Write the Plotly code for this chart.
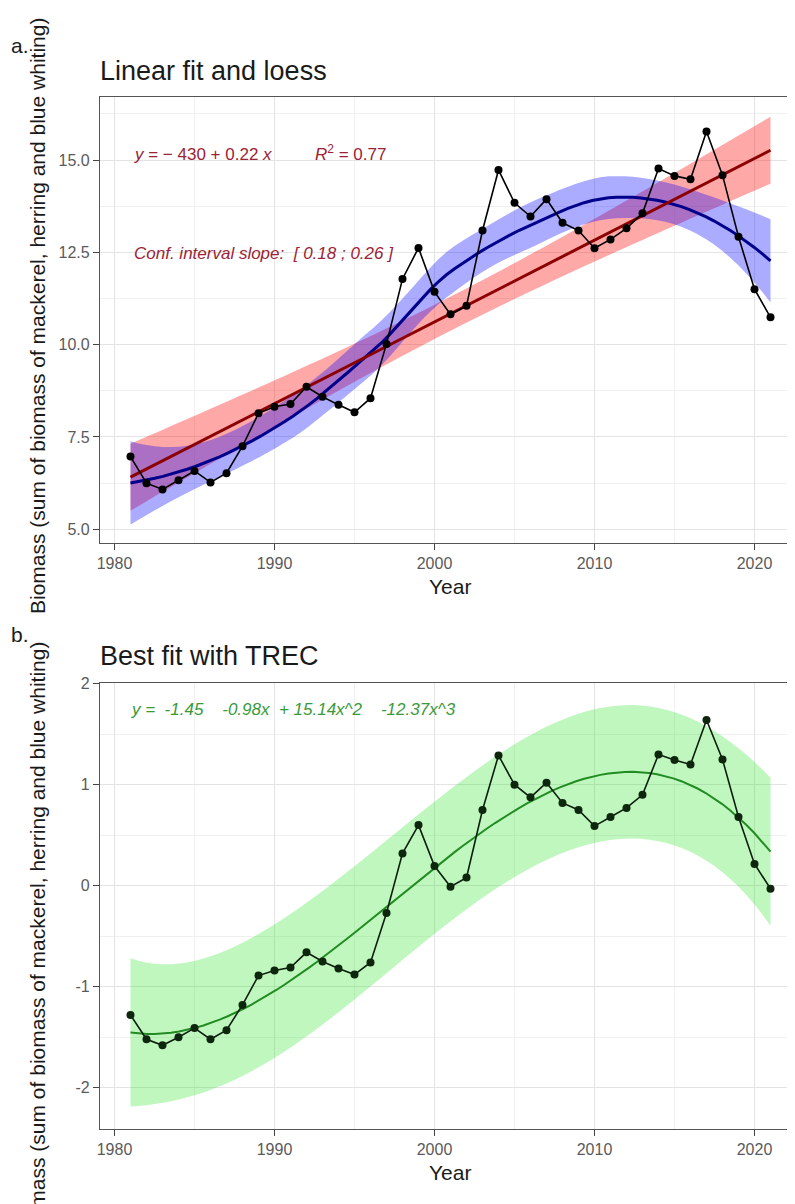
import numpy as np
import plotly.graph_objects as go

# ---------------- data ----------------
years = [1981, 1982, 1983, 1984, 1985, 1986, 1987, 1988, 1989, 1990,
         1991, 1992, 1993, 1994, 1995, 1996, 1997, 1998, 1999, 2000,
         2001, 2002, 2003, 2004, 2005, 2006, 2007, 2008, 2009, 2010,
         2011, 2012, 2013, 2014, 2015, 2016, 2017, 2018, 2019, 2020, 2021]

biomass = [6.97, 6.25, 6.08, 6.33, 6.58, 6.27, 6.52, 7.25, 8.14, 8.32,
           8.39, 8.86, 8.59, 8.37, 8.17, 8.55, 10.02, 11.78, 12.62, 11.43,
           10.82, 11.05, 13.09, 14.73, 13.84, 13.47, 13.94, 13.30, 13.09, 12.61,
           12.85, 13.15, 13.56, 14.77, 14.57, 14.48, 15.77, 14.59, 12.92, 11.50, 10.74]

biomass_std = [-1.28, -1.52, -1.58, -1.50, -1.41, -1.52, -1.43, -1.18, -0.89, -0.84,
               -0.81, -0.66, -0.75, -0.82, -0.88, -0.76, -0.27, 0.32, 0.60, 0.195,
               -0.01, 0.08, 0.75, 1.29, 1.00, 0.875, 1.02, 0.82, 0.75, 0.59,
               0.68, 0.77, 0.90, 1.30, 1.245, 1.20, 1.64, 1.25, 0.68, 0.215, -0.03]

top_ticks = [5.0, 7.5, 10.0, 12.5, 15.0]
top_minor = [6.25, 8.75, 11.25, 13.75, 16.25]
bot_ticks = [-2, -1, 0, 1, 2]
bot_ticktext = ["-2", "-1", "0", "1", "2"]
bot_minor = [-1.5, -0.5, 0.5, 1.5]
x_ticks = [1980, 1990, 2000, 2010, 2020]
x_minor = [1985, 1995, 2005, 2015]

ylab = "Biomass (sum of biomass of mackerel, herring and blue whiting)"


# ---------------- statistics (computed from the data) ----------------
def t975(df):
    z = 1.959963985
    g1 = (z**3 + z) / 4
    g2 = (5*z**5 + 16*z**3 + 3*z) / 96
    g3 = (3*z**7 + 19*z**5 + 17*z**3 - 15*z) / 384
    g4 = (79*z**9 + 776*z**7 + 1482*z**5 - 1920*z**3 - 945*z) / 92160
    return z + g1/df + g2/df**2 + g3/df**3 + g4/df**4


x = np.array(years, float)
y = np.array(biomass, float)
ys = np.array(biomass_std, float)
n = len(x)
grid = np.linspace(x.min(), x.max(), 80)

# linear fit + 95% CI
b1, b0 = np.polyfit(x, y, 1)
res = y - (b0 + b1*x)
s_lin = np.sqrt(np.sum(res**2) / (n - 2))
xbar = x.mean()
sxx = np.sum((x - xbar)**2)
lin_fit = b0 + b1*grid
lin_se = s_lin*np.sqrt(1/n + (grid - xbar)**2/sxx)
lin_hi = lin_fit + t975(n - 2)*lin_se
lin_lo = lin_fit - t975(n - 2)*lin_se


# loess (span 0.75, degree 2, kd-tree vertices + cubic Hermite interpolation, as R does)
SPAN = 0.75


def local_rows(xd, x0):
    q = int(np.floor(len(xd)*SPAN))
    d = np.abs(xd - x0)
    h = np.sort(d)[q - 1]
    u = d / h
    w = np.where(u < 1, (1 - u**3)**3, 0.0)
    X = np.column_stack([np.ones(len(xd)), xd - x0, (xd - x0)**2])
    XtW = X.T * w
    A = np.linalg.solve(XtW @ X, XtW)
    return A[0], A[1]          # value row, slope row


def kd_vertices(xs, fc):
    xs = np.sort(xs)
    rng = xs[-1] - xs[0]
    verts = {xs[0] - 0.005*rng, xs[-1] + 0.005*rng}

    def split(l, u):  # 0-based inclusive indices
        if u - l + 1 <= fc:
            return
        m = (l + u) // 2
        verts.add(xs[m])
        split(l, m)
        split(m + 1, u)
    split(0, len(xs) - 1)
    return np.array(sorted(verts))


fc = int(np.floor(n*SPAN*0.2))
verts = kd_vertices(x, fc)
vrows = [local_rows(x, v) for v in verts]


def interp_rows(x0s):
    out = []
    for x0 in x0s:
        k = np.searchsorted(verts, x0) - 1
        k = min(max(k, 0), len(verts) - 2)
        v0, v1 = verts[k], verts[k + 1]
        hh = v1 - v0
        s = (x0 - v0) / hh
        h00 = 2*s**3 - 3*s**2 + 1
        h10 = s**3 - 2*s**2 + s
        h01 = -2*s**3 + 3*s**2
        h11 = s**3 - s**2
        f0, d0 = vrows[k]
        f1, d1_ = vrows[k + 1]
        out.append(h00*f0 + h10*hh*d0 + h01*f1 + h11*hh*d1_)
    return np.array(out)


L = interp_rows(x)
r = y - L @ y
IL = np.eye(n) - L
M = IL.T @ IL
dl1 = np.trace(M)
dl2 = np.trace(M @ M)
s_lo = np.sqrt(np.sum(r**2) / dl1)
Lg = interp_rows(grid)
lo_fit = Lg @ y
lo_se = s_lo*np.sqrt(np.sum(Lg**2, axis=1))
tq_lo = t975(dl1**2 / dl2)
lo_hi = lo_fit + tq_lo*lo_se
lo_lo = lo_fit - tq_lo*lo_se

# cubic trend (TREC) + prediction interval
tt = (x - x.min()) / (x.max() - x.min())
Xc = np.column_stack([np.ones(n), tt, tt**2, tt**3])
beta, *_ = np.linalg.lstsq(Xc, ys, rcond=None)
rc = ys - Xc @ beta
s2 = np.sum(rc**2) / (n - 4)
XtXi = np.linalg.inv(Xc.T @ Xc)
tg = (grid - x.min()) / (x.max() - x.min())
Xg = np.column_stack([np.ones(len(tg)), tg, tg**2, tg**3])
cub_fit = Xg @ beta
hlev = np.sum((Xg @ XtXi) * Xg, axis=1)
cub_pi = t975(n - 4)*np.sqrt(s2*(1 + hlev))
cub_hi = cub_fit + cub_pi
cub_lo = cub_fit - cub_pi

# ---------------- figure ----------------
# page has an 8px body margin: the figure is sized so that it ends at the window edge
OFF = 8
W, H = 795 - OFF, 1204 - OFF
ML, MR, MT, MB = 100 - OFF, 0, 97 - OFF, (1204 - OFF) - (1129 - OFF)
PH = H - MT - MB


def py(ref_pix):  # reference-window pixel -> paper y
    return (1129 - ref_pix) / PH


def px(ref_pix):  # reference-window pixel -> paper x
    return (ref_pix - 100) / (W - ML - MR)


top_dom = [py(543), 1.0]
bot_dom = [0.0, py(683)]

fig = go.Figure()


def band(xa, ya, lo, hi, color):
    fig.add_trace(go.Scatter(x=list(grid) + list(grid[::-1]),
                             y=list(hi) + list(lo[::-1]),
                             fill="toself", fillcolor=color, mode="none",
                             xaxis=xa, yaxis=ya, hoverinfo="skip", showlegend=False))


band("x", "y", lin_lo, lin_hi, "rgba(255,0,0,0.34)")
band("x", "y", lo_lo, lo_hi, "rgba(0,0,255,0.33)")
fig.add_trace(go.Scatter(x=grid, y=lo_fit, mode="lines", line=dict(color="#00008B", width=3),
                         xaxis="x", yaxis="y", showlegend=False))
fig.add_trace(go.Scatter(x=grid, y=lin_fit, mode="lines", line=dict(color="#8B0000", width=3),
                         xaxis="x", yaxis="y", showlegend=False))
fig.add_trace(go.Scatter(x=years, y=biomass, mode="lines+markers",
                         line=dict(color="black", width=1.6),
                         marker=dict(color="black", size=8),
                         xaxis="x", yaxis="y", showlegend=False))

band("x2", "y2", cub_lo, cub_hi, "rgba(0,225,0,0.25)")
fig.add_trace(go.Scatter(x=grid, y=cub_fit, mode="lines", line=dict(color="#228B22", width=2),
                         xaxis="x2", yaxis="y2", showlegend=False))
fig.add_trace(go.Scatter(x=years, y=biomass_std, mode="lines+markers",
                         line=dict(color="#0d1f0d", width=1.6),
                         marker=dict(color="#0d260d", size=8),
                         xaxis="x2", yaxis="y2", showlegend=False))

FONT = "Liberation Sans, Arial, sans-serif"
xr = [1980 + (100 - 114.5)/16, 1980 + (795 - 114.5)/16]
grid_major = "#e4e4e4"
grid_minor = "#f0f0f0"
tickfont = dict(family=FONT, size=16, color="#5a5a5a")

xcommon = dict(range=xr, tickmode="array", tickvals=x_ticks, showgrid=True,
               gridcolor=grid_major, gridwidth=1, zeroline=False,
               showline=True, linecolor="#555555", linewidth=1.2, mirror=True,
               ticks="outside", ticklen=6, tickwidth=1.2, tickcolor="#444444",
               tickfont=tickfont,
               minor=dict(tickmode="array", tickvals=x_minor, showgrid=True,
                          gridcolor=grid_minor, gridwidth=1, ticks=""))

fig.update_layout(
    width=W, height=H, margin=dict(l=ML, r=MR, t=MT, b=MB),
    paper_bgcolor="white", plot_bgcolor="white", showlegend=False,
    font=dict(family=FONT),
    xaxis=dict(anchor="y", **xcommon),
    xaxis2=dict(anchor="y2", **xcommon),
    yaxis=dict(domain=top_dom, anchor="x", range=[15 - (543 - 160)/36.93, 15 + (160 - 97)/36.93],
               tickmode="array", tickvals=top_ticks, ticktext=[f"{v:.1f}" for v in top_ticks],
               showgrid=True, gridcolor=grid_major, zeroline=False,
               showline=True, linecolor="#555555", linewidth=1.2,
               ticks="outside", ticklen=6, tickwidth=1.2, tickcolor="#444444",
               tickfont=tickfont,
               minor=dict(tickmode="array", tickvals=top_minor, showgrid=True,
                          gridcolor=grid_minor, ticks="")),
    yaxis2=dict(domain=bot_dom, anchor="x2", range=[-(1129 - 885.7)/101, (885.7 - 683)/101],
                tickmode="array", tickvals=bot_ticks, ticktext=bot_ticktext,
                showgrid=True, gridcolor=grid_major, zeroline=False,
                showline=True, linecolor="#555555", linewidth=1.2,
                ticks="outside", ticklen=6, tickwidth=1.2, tickcolor="#444444",
                tickfont=tickfont,
                minor=dict(tickmode="array", tickvals=bot_minor, showgrid=True,
                           gridcolor=grid_minor, ticks="")),
)

red_txt = "#9b2335"
green_txt = "#3a9a3a"
nb = "\u00a0"
ann = [
    # titles
    dict(text="Linear fit and loess", x=px(98), y=py(71), xref="paper", yref="paper",
         xanchor="left", yanchor="middle", font=dict(size=27, color="#1a1a1a")),
    dict(text="Best fit with TREC", x=px(98), y=py(656), xref="paper", yref="paper",
         xanchor="left", yanchor="middle", font=dict(size=27, color="#1a1a1a")),
    # panel tags
    dict(text="a.", x=px(20), y=py(46), xref="paper", yref="paper",
         xanchor="center", yanchor="middle", font=dict(size=21, color="#1a1a1a")),
    dict(text="b.", x=px(20), y=py(634), xref="paper", yref="paper",
         xanchor="center", yanchor="middle", font=dict(size=21, color="#1a1a1a")),
    # y labels
    dict(text=ylab, x=px(37), y=py(316), xref="paper", yref="paper", textangle=-90,
         xanchor="center", yanchor="middle", font=dict(size=21, color="#1a1a1a")),
    dict(text=ylab, x=px(37), y=py(940), xref="paper", yref="paper", textangle=-90,
         xanchor="center", yanchor="middle", font=dict(size=21, color="#1a1a1a")),
    # x titles
    dict(text="Year", x=px(450), y=py(586), xref="paper", yref="paper",
         xanchor="center", yanchor="middle", font=dict(size=21, color="#1a1a1a")),
    dict(text="Year", x=px(450), y=py(1172), xref="paper", yref="paper",
         xanchor="center", yanchor="middle", font=dict(size=21, color="#1a1a1a")),
    # equations
    dict(text="<i>y</i> = \u2212 430 + 0.22 <i>x</i>", x=1981.1, y=15.16, xref="x", yref="y",
         xanchor="left", yanchor="middle", font=dict(size=17, color=red_txt)),
    dict(text="<i>R</i><sup>2</sup> = 0.77", x=1992.4, y=15.2, xref="x", yref="y",
         xanchor="left", yanchor="middle", font=dict(size=17, color=red_txt)),
    dict(text="<i>Conf. interval slope:" + nb + " [ 0.18 ; 0.26 ]</i>", x=1981.1, y=12.48,
         xref="x", yref="y", xanchor="left", yanchor="middle",
         font=dict(size=17, color=red_txt)),
    dict(text="<i>y =" + nb + " -1.45" + nb*4 + "-0.98x" + nb*2 + "+ 15.14x^2" + nb*4 + "-12.37x^3</i>",
         x=1980.9, y=1.74, xref="x2", yref="y2", xanchor="left", yanchor="middle",
         font=dict(size=17, color=green_txt)),
]
for a in ann:
    a["showarrow"] = False
fig.update_layout(annotations=ann)

fig.write_html("out.html")
